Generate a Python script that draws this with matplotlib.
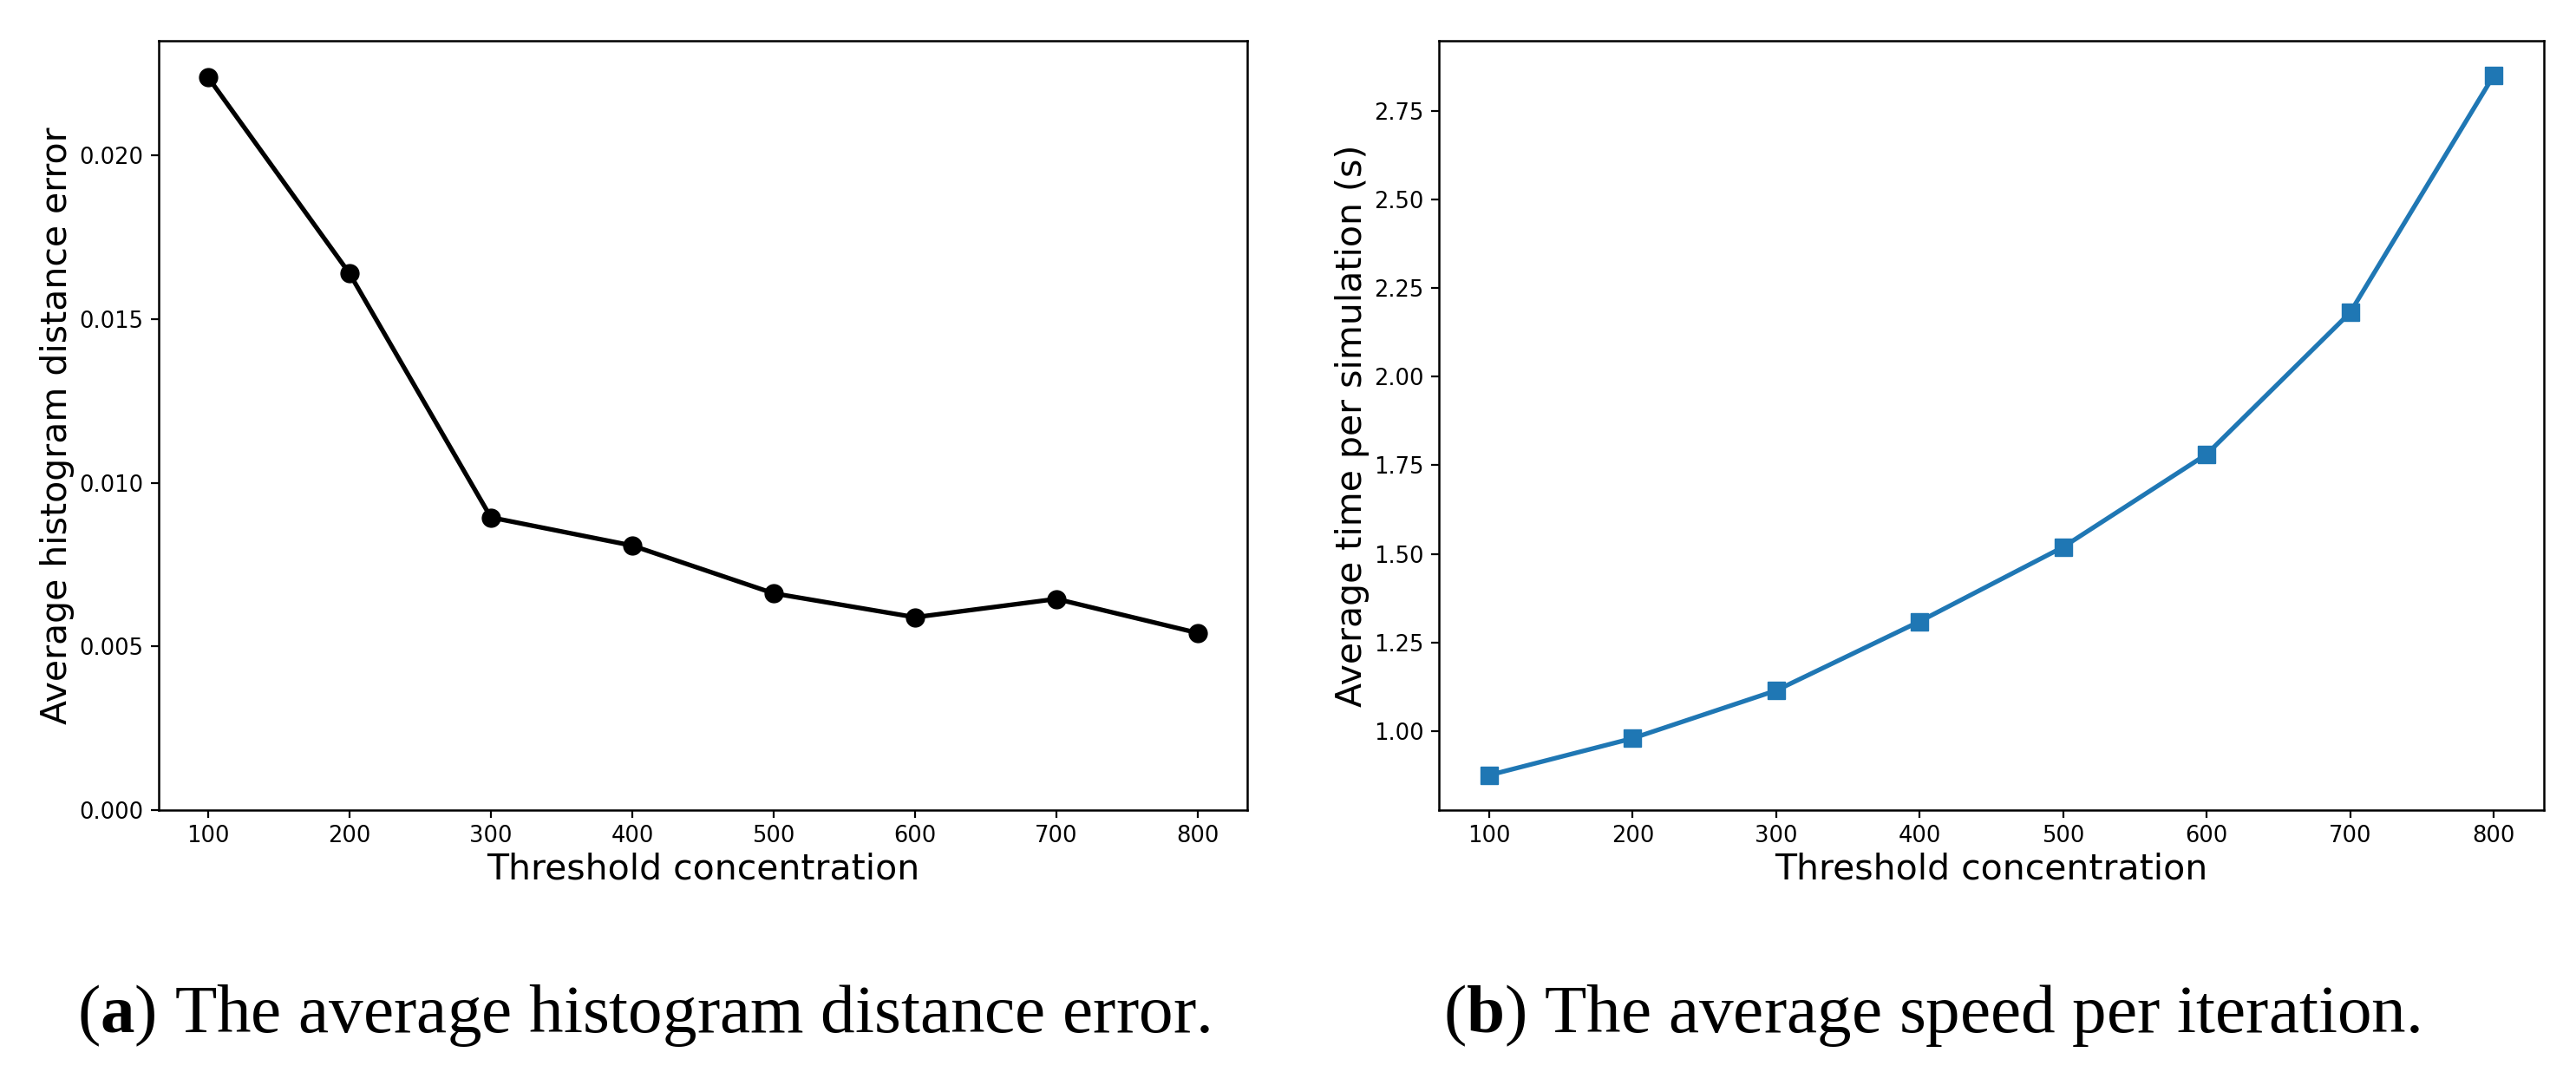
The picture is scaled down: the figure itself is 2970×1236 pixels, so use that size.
import matplotlib
matplotlib.use('Agg')
import matplotlib.pyplot as plt

# data
thresholds = [100, 200, 300, 400, 500, 600, 700, 800]
hist_error = [0.02238, 0.01639, 0.00894, 0.00808, 0.00662, 0.00589, 0.00645, 0.00541]
sim_time = [0.875, 0.979, 1.114, 1.309, 1.519, 1.781, 2.181, 2.850]
time_ticks = [1.00, 1.25, 1.50, 1.75, 2.00, 2.25, 2.50, 2.75]

plt.rcParams.update({'font.family': 'DejaVu Sans',
                     'mathtext.fontset': 'custom',
                     'mathtext.rm': 'Liberation Serif',
                     'mathtext.bf': 'Liberation Serif:bold'})

fig = plt.figure(figsize=(29.7, 12.36), dpi=100)
axA = fig.add_axes([0.0616, 0.2443, 0.4226, 0.7177])
axB = fig.add_axes([0.5586, 0.2443, 0.4289, 0.7177])

axA.plot(thresholds, hist_error, 'o-', color='black', lw=3.8, ms=15)
axA.set_ylim(0, 0.0235)
axA.set_ylabel('Average histogram distance error', fontsize=29.5)

axB.plot(thresholds, sim_time, 's-', color='#1f77b4', lw=3.8, ms=15)
axB.set_ylabel('Average time per simulation (s)', fontsize=29.5)
axB.set_yticks(time_ticks)
axB.set_yticklabels([f'{v:.2f}' for v in time_ticks])

for ax in (axA, axB):
    ax.set_xlabel('Threshold concentration', fontsize=29.5, labelpad=4)
    ax.tick_params(labelsize=18.5, length=6.5, width=1.6, pad=6)
    for sp in ax.spines.values():
        sp.set_linewidth(1.8)

cap_kw = dict(fontsize=57, family='Liberation Serif', ha='center', va='baseline')
fig.text(0.25, 0.037, r'($\mathbf{a}$) The average histogram distance error.', **cap_kw)
fig.text(0.75, 0.037, r'($\mathbf{b}$) The average speed per iteration.', **cap_kw)

fig.savefig('out.png', dpi=100)
